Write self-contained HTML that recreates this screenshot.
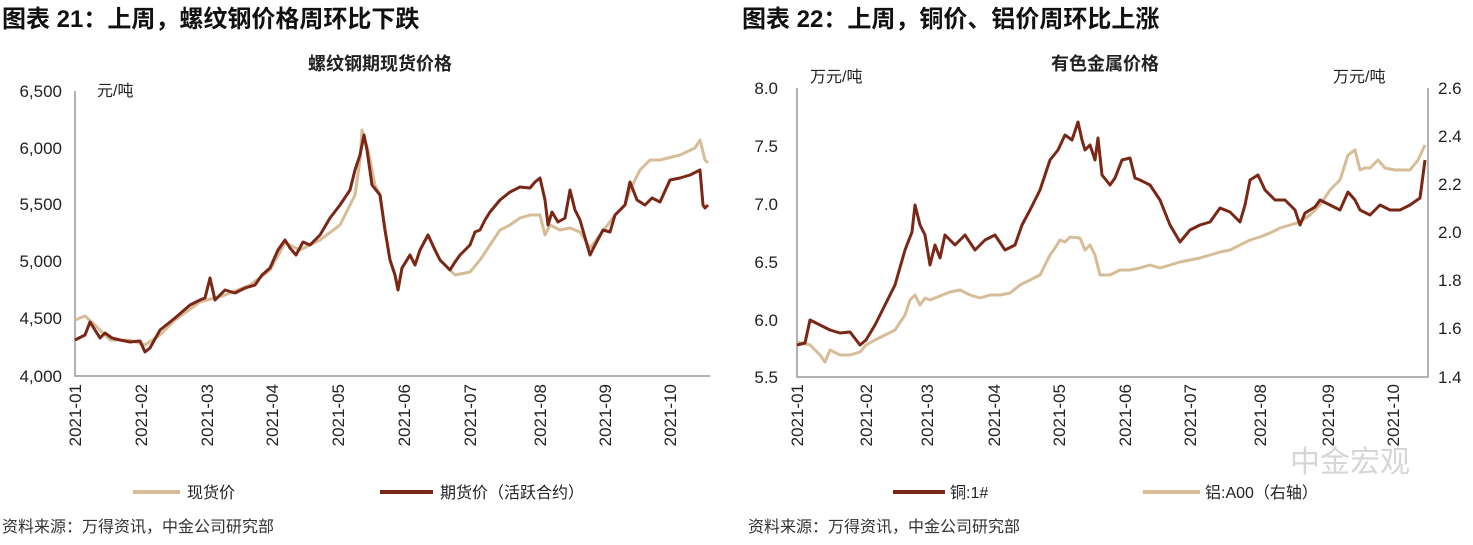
<!DOCTYPE html>
<html><head><meta charset="utf-8"><style>
body{margin:0;background:#fff;width:1473px;height:540px;overflow:hidden;font-family:"Liberation Sans","Noto Sans CJK SC",sans-serif}
</style></head><body>
<svg width="1473" height="540" xmlns="http://www.w3.org/2000/svg" font-family="Liberation Sans, Noto Sans CJK SC, sans-serif">
<g font-size="24" font-weight="bold" fill="#111">
<text x="2" y="27">图表 21：上周，螺纹钢价格周环比下跌</text>
<text x="742" y="27">图表 22：上周，铜价、铝价周环比上涨</text>
</g>
<g font-size="18" font-weight="bold" fill="#222" text-anchor="middle">
<text x="380" y="70">螺纹钢期现货价格</text>
<text x="1105" y="70">有色金属价格</text>
</g>
<g font-size="16" fill="#222">
<text x="97" y="96">元/吨</text>
<text x="810" y="82">万元/吨</text>
<text x="1333" y="82">万元/吨</text>
</g>
<g stroke="#999" stroke-width="1.5" fill="none">
<path d="M75 91V376H710"/>
<path d="M797 88V377H1428V88"/>
</g>
<g font-size="17" fill="#222" text-anchor="end">
<text x="62" y="97">6,500</text><text x="62" y="154">6,000</text><text x="62" y="210">5,500</text>
<text x="62" y="267">5,000</text><text x="62" y="324">4,500</text><text x="62" y="382">4,000</text>
<text x="778" y="94">8.0</text><text x="778" y="152">7.5</text><text x="778" y="210">7.0</text>
<text x="778" y="268">6.5</text><text x="778" y="326">6.0</text><text x="778" y="383">5.5</text>
</g>
<g font-size="17" fill="#222">
<text x="1438" y="94">2.6</text><text x="1438" y="142">2.4</text><text x="1438" y="190">2.2</text>
<text x="1438" y="238">2.0</text><text x="1438" y="286">1.8</text><text x="1438" y="334">1.6</text><text x="1438" y="383">1.4</text>
</g>
<g font-size="17" fill="#222" text-anchor="end">
<text transform="translate(81,384) rotate(-90)">2021-01</text>
<text transform="translate(147,384) rotate(-90)">2021-02</text>
<text transform="translate(213,384) rotate(-90)">2021-03</text>
<text transform="translate(278,384) rotate(-90)">2021-04</text>
<text transform="translate(344,384) rotate(-90)">2021-05</text>
<text transform="translate(410,384) rotate(-90)">2021-06</text>
<text transform="translate(476,384) rotate(-90)">2021-07</text>
<text transform="translate(546,384) rotate(-90)">2021-08</text>
<text transform="translate(611,384) rotate(-90)">2021-09</text>
<text transform="translate(676,384) rotate(-90)">2021-10</text>
<text transform="translate(803,384) rotate(-90)">2021-01</text>
<text transform="translate(872,384) rotate(-90)">2021-02</text>
<text transform="translate(933,384) rotate(-90)">2021-03</text>
<text transform="translate(1000,384) rotate(-90)">2021-04</text>
<text transform="translate(1065,384) rotate(-90)">2021-05</text>
<text transform="translate(1131,384) rotate(-90)">2021-06</text>
<text transform="translate(1196,384) rotate(-90)">2021-07</text>
<text transform="translate(1266,384) rotate(-90)">2021-08</text>
<text transform="translate(1334,384) rotate(-90)">2021-09</text>
<text transform="translate(1399,384) rotate(-90)">2021-10</text>
</g>
<g fill="none" stroke-width="3" stroke-linejoin="round">
<polyline stroke="#d6bd98" points="75,320 85,316 95,325 110,340 130,340 145,345 160,335 175,320 200,302 225,295 250,285 270,270 285,243 300,250 320,240 340,225 355,195 360,160 362,130 368,150 375,185 380,195 385,230 390,260 395,275 398,290 402,268 410,255 415,265 420,250 428,235 435,250 440,260 450,270 455,275 470,272 480,260 490,245 500,230 510,225 520,218 530,215 540,215 545,235 550,225 560,230 570,228 580,232 590,248 600,235 615,215 625,205 630,190 635,180 640,170 650,160 660,160 680,155 695,148 700,140 705,160 708,163"/>
<polyline stroke="#7a2716" points="75,340 85,335 90,322 95,330 100,338 105,333 112,338 120,340 130,342 140,341 145,352 150,348 160,330 175,318 190,305 200,300 205,298 210,278 215,300 225,290 235,293 245,288 255,285 262,275 270,268 278,250 285,240 290,248 296,255 303,242 310,245 320,235 330,218 340,205 350,190 355,170 360,155 364,135 367,150 372,185 380,195 385,230 390,260 395,275 398,290 402,268 410,255 415,265 420,250 428,235 435,250 440,260 450,270 455,262 460,255 470,245 475,232 480,230 485,220 490,212 500,200 510,192 520,187 530,188 535,182 540,178 545,200 548,225 552,212 558,222 565,218 570,190 575,210 580,220 590,255 595,245 603,230 610,232 615,215 625,205 630,182 637,200 645,205 652,198 660,202 670,180 680,178 690,175 700,170 703,205 705,208 708,205"/>
<polyline stroke="#d6bd98" points="797,342 810,345 820,355 825,362 830,350 840,355 850,355 860,352 866,345 875,340 885,335 895,330 905,315 910,300 915,295 920,305 925,298 930,300 940,296 950,292 960,290 970,295 980,298 990,295 1000,295 1010,293 1020,285 1030,280 1040,275 1045,265 1050,255 1055,248 1060,240 1065,242 1070,237 1080,238 1085,250 1090,245 1095,255 1100,275 1110,275 1120,270 1130,270 1140,268 1150,265 1160,268 1170,265 1180,262 1190,260 1200,258 1210,255 1220,252 1230,250 1240,245 1250,240 1260,237 1270,233 1280,228 1290,225 1300,222 1310,215 1320,205 1330,190 1340,180 1348,155 1355,150 1360,170 1365,168 1370,168 1378,160 1385,168 1395,170 1410,170 1418,160 1425,145"/>
<polyline stroke="#7a2716" points="797,345 805,343 810,320 820,325 830,330 840,333 850,332 860,345 866,340 875,325 885,305 895,285 905,250 912,232 915,205 920,225 925,235 930,265 935,245 940,258 945,235 955,245 965,235 975,250 985,240 995,235 1005,250 1015,245 1022,225 1030,210 1040,190 1045,175 1050,160 1058,150 1065,135 1072,140 1078,122 1082,140 1085,150 1090,145 1095,160 1098,138 1102,175 1110,185 1115,178 1122,160 1130,158 1135,178 1140,180 1150,185 1160,200 1170,225 1180,242 1190,230 1200,225 1210,222 1220,208 1230,212 1240,222 1245,205 1250,180 1258,175 1265,190 1275,200 1285,200 1295,210 1300,225 1305,213 1315,207 1320,200 1330,205 1340,210 1348,192 1355,200 1360,210 1370,215 1380,205 1390,210 1400,210 1410,205 1420,198 1425,160"/>
</g>
<g stroke-width="4">
<line x1="133" y1="492" x2="180" y2="492" stroke="#d6bd98"/>
<line x1="380" y1="492" x2="433" y2="492" stroke="#7a2716"/>
<line x1="893" y1="492" x2="945" y2="492" stroke="#7a2716"/>
<line x1="1143" y1="492" x2="1200" y2="492" stroke="#d6bd98"/>
</g>
<g font-size="16" fill="#222">
<text x="187" y="498">现货价</text>
<text x="440" y="498">期货价（活跃合约）</text>
<text x="950" y="498">铜:1#</text>
<text x="1205" y="498">铝:A00（右轴）</text>
</g>
<g font-size="16" fill="#333">
<text x="2" y="532">资料来源：万得资讯，中金公司研究部</text>
<text x="748" y="532">资料来源：万得资讯，中金公司研究部</text>
</g>
<text x="1290" y="472" font-size="30" fill="#ccc" opacity="0.8">中金宏观</text>
</svg>
</body></html>
